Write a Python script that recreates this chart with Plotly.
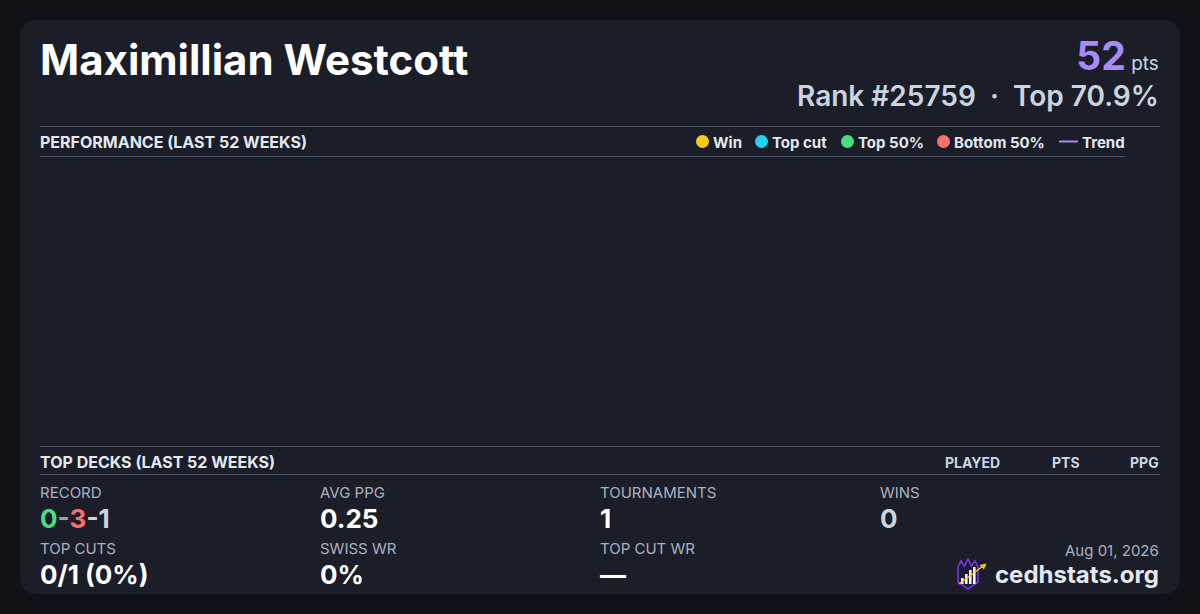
import plotly.graph_objects as go

# ---- data ----
player_name = "Maximillian Westcott"
points = 52
rank = 25759
top_percent = 70.9
report_date = "Aug 01, 2026"
site_name = "cedhstats.org"

weeks = []            # last 52 weeks: no results recorded
week_points = []
week_outcomes = []

legend_labels = ["Win", "Top cut", "Top 50%", "Bottom 50%", "Trend"]
legend_colors = ["#facc15", "#22d3ee", "#4ade80", "#f87171", "#a78bfa"]

deck_columns = ["PLAYED", "PTS", "PPG"]

record = [0, 3, 1]     # wins - losses - draws
stat_labels = ["RECORD", "AVG PPG", "TOURNAMENTS", "WINS",
               "TOP CUTS", "SWISS WR", "TOP CUT WR"]
stat_values = [None, "0.25", "1", "0", "0/1 (0%)", "0%", "\u2014"]

W, H = 1200, 614
FONT = "Inter"


def X(px):
    return px / W


def Y(py):
    return 1 - py / H


fig = go.Figure()

# empty performance chart (no games in window)
for lab, col in zip(legend_labels[:4], legend_colors[:4]):
    fig.add_trace(go.Scatter(x=weeks, y=week_points, mode="markers", name=lab,
                             marker=dict(color=col, size=9, symbol="octagon"),
                             showlegend=False))
fig.add_trace(go.Scatter(x=weeks, y=week_points, mode="lines", name="Trend",
                         line=dict(color=legend_colors[4], width=2),
                         showlegend=False))

shapes = []
ann = []

# card background with rounded corners
r = 18
x0, y0, x1, y1 = 20, 20, 1180, 594
card_path = (
    f"M {X(x0 + r)} {Y(y0)} L {X(x1 - r)} {Y(y0)} Q {X(x1)} {Y(y0)} {X(x1)} {Y(y0 + r)} "
    f"L {X(x1)} {Y(y1 - r)} Q {X(x1)} {Y(y1)} {X(x1 - r)} {Y(y1)} "
    f"L {X(x0 + r)} {Y(y1)} Q {X(x0)} {Y(y1)} {X(x0)} {Y(y1 - r)} "
    f"L {X(x0)} {Y(y0 + r)} Q {X(x0)} {Y(y0)} {X(x0 + r)} {Y(y0)} Z"
)
shapes.append(dict(type="path", xref="paper", yref="paper", path=card_path,
                   fillcolor="#1b1d28", line=dict(width=0), layer="below"))

# divider lines
rule = "#4a5568"
for (a, b, yy) in [(40, 1160, 126.5), (40, 1125, 156.5), (40, 1160, 446.5), (40, 1160, 474.5)]:
    shapes.append(dict(type="line", xref="paper", yref="paper", x0=X(a), x1=X(b),
                       y0=Y(yy), y1=Y(yy), line=dict(color=rule, width=1)))


def text(x, y, s, size, color, weight=400, anchor="left"):
    ann.append(dict(x=X(x), y=Y(y), xref="paper", yref="paper", text=s, showarrow=False,
                    xanchor=anchor, yanchor="middle", align=anchor,
                    font=dict(family=FONT, size=size, color=color, weight=weight)))


# header
text(38, 59, player_name, 42, "#ffffff", 700)
score_block = (
    f'<span style="font-size:39px;font-weight:700;color:{legend_colors[4]}">{points}</span>'
    f'<span style="font-size:19px;font-weight:400;color:#cbd5e1"> pts</span><br>'
    f'<span style="font-size:28px;font-weight:600;color:#cbd5e1">'
    f'Rank #{rank}  \u00b7  Top {top_percent}%</span>'
)
text(1161, 72, score_block, 28, "#cbd5e1", 600, "right")

# performance section
text(38, 142, "PERFORMANCE (LAST 52 WEEKS)", 16, "#e2e8f0", 700)
dot_x = [702.5, 761.5, 847.5, 943.5]
text_x = [711, 770, 856, 952]
for i in range(4):
    shapes.append(dict(type="circle", xref="paper", yref="paper",
                       x0=X(dot_x[i] - 6.5), x1=X(dot_x[i] + 6.5),
                       y0=Y(141.5 - 6.5), y1=Y(141.5 + 6.5),
                       fillcolor=legend_colors[i], line=dict(width=0)))
    text(text_x[i], 142, legend_labels[i], 15, "#e2e8f0", 700)
shapes.append(dict(type="line", xref="paper", yref="paper", x0=X(1059), x1=X(1078),
                   y0=Y(141.5), y1=Y(141.5), line=dict(color=legend_colors[4], width=2)))
text(1080, 142, legend_labels[4], 15, "#e2e8f0", 700)

# top decks section
text(38, 462, "TOP DECKS (LAST 52 WEEKS)", 16, "#e2e8f0", 700)
col_x = [972, 1066, 1161]
col_anchor = ["center", "center", "right"]
for c, cx, ca in zip(deck_columns, col_x, col_anchor):
    text(cx, 462, c, 14, "#cbd5e1", 700, ca)

# stats grid
label_col = "#aab2c2"
stat_x = [38, 318, 598, 878, 38, 318, 598]
stat_ly = [492, 492, 492, 492, 548, 548, 548]
for lab, val, sx, sy in zip(stat_labels, stat_values, stat_x, stat_ly):
    text(sx, sy, lab, 15, label_col, 400)
    if lab == "RECORD":
        v = (f'<span style="color:#4ade80">{record[0]}</span>'
             f'<span style="color:#9ca3af">-</span>'
             f'<span style="color:#f87171">{record[1]}</span>'
             f'<span style="color:#cbd5e1">-{record[2]}</span>')
        text(sx, sy + 26, v, 26, "#ffffff", 700)
    elif lab == "WINS":
        text(sx, sy + 26, val, 26, "#cbd5e1", 700)
    else:
        text(sx, sy + 26, val, 26, "#ffffff", 700)

# footer
text(1161, 550, report_date, 15, "#aab2c2", 400, "right")
text(1161, 574, site_name, 24, "#e2e8f0", 700, "right")

# logo: shield with crown, bars and rising arrow
shield = [(958, 567), (961, 561), (964.5, 566), (968, 559), (971.5, 566), (975, 561), (978, 567),
          (978, 582), (968, 589), (958, 582)]
shield_path = "M " + " L ".join(f"{X(a)} {Y(b)}" for a, b in shield) + " Z"
shapes.append(dict(type="path", xref="paper", yref="paper", path=shield_path,
                   fillcolor="#1e1b33", line=dict(color="#7c3aed", width=1.5)))
for bx, btop in [(961, 578), (965, 574), (969, 570), (973, 567)]:
    shapes.append(dict(type="rect", xref="paper", yref="paper", x0=X(bx), x1=X(bx + 2.6),
                       y0=Y(584), y1=Y(btop), fillcolor="#f1f5f9", line=dict(width=0)))
shapes.append(dict(type="line", xref="paper", yref="paper", x0=X(959), x1=X(983),
                   y0=Y(584), y1=Y(566), line=dict(color="#facc15", width=1.5)))
head = [(986.5, 563.5), (979.5, 565), (984, 569.5)]
shapes.append(dict(type="path", xref="paper", yref="paper",
                   path="M " + " L ".join(f"{X(a)} {Y(b)}" for a, b in head) + " Z",
                   fillcolor="#facc15", line=dict(width=0)))

fig.update_layout(
    width=W, height=H,
    margin=dict(l=0, r=0, t=0, b=0),
    paper_bgcolor="#111217",
    plot_bgcolor="rgba(0,0,0,0)",
    xaxis=dict(domain=[X(40), X(1125)], visible=False, range=[0, 52]),
    yaxis=dict(domain=[Y(446), Y(157)], visible=False, range=[0, 1]),
    shapes=shapes,
    annotations=ann,
    showlegend=False,
)

fig.write_html("out.html", config={"displayModeBar": False},
               post_script="document.body.style.margin='0';document.body.style.overflow='hidden';")
